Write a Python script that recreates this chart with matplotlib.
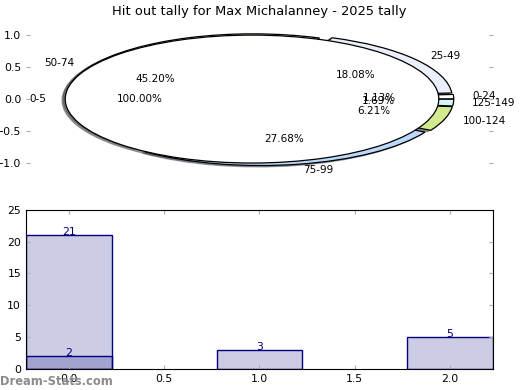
import numpy as np
import matplotlib
matplotlib.use('Agg')
import matplotlib.pyplot as plt

# данные
ranges = ['0-24', '25-49', '50-74', '75-99', '100-124', '125-149']
counts = [2, 32, 80, 49, 11, 3]
range_colors = ['#ffffff', '#eaeffb', '#f4e7c8', '#bcd8fc', '#d4ea8e', '#d6f6f6']
all_label = ['0-5']
all_count = [1]

bar_x = [0, 1, 2]
bar_vals = [21, 3, 5]
bar2_x = [0]
bar2_vals = [2]

title = 'Hit out tally for Max Michalanney - 2025 tally'
tick_grey = '#aaaaaa'

fig = plt.figure(figsize=(5.2, 3.9), dpi=100)

# пирог
ax1 = fig.add_axes([0.05, 0.541, 0.898, 0.41])
wp = {'edgecolor': 'black', 'linewidth': 0.9}
sh = {'ox': -0.012, 'oy': -0.015}
ax1.pie(counts, labels=ranges, colors=range_colors, autopct='%.2f%%',
        explode=[0.04] * len(counts), shadow=sh, wedgeprops=wp,
        textprops={'fontsize': 7.5})
ax1.pie(all_count, labels=all_label, colors=['white'], autopct='%.2f%%',
        explode=[0.04], shadow=sh, wedgeprops=wp,
        textprops={'fontsize': 7.5})
ax1.set_aspect('auto')
ax1.set_xlim(-1.25, 1.25)
ax1.set_ylim(-1.25, 1.25)
ax1.set_frame_on(False)
ax1.set_xticks([])
ax1.set_yticks([-1.0, -0.5, 0.0, 0.5, 1.0])
ax1.tick_params(axis='y', direction='in', length=3, color=tick_grey,
                labelsize=7.8, left=True, right=True)
ax1.set_title(title, fontsize=9.4, pad=3)

# столбцы
ax2 = fig.add_axes([0.05, 0.054, 0.898, 0.408])
ax2.bar(bar_x, bar_vals, width=0.45, color='navy', alpha=0.2)
ax2.bar(bar_x, bar_vals, width=0.45, facecolor='none', edgecolor='navy', linewidth=1)
ax2.bar(bar2_x, bar2_vals, width=0.45, color='navy', alpha=0.2)
ax2.bar(bar2_x, bar2_vals, width=0.45, facecolor='none', edgecolor='navy', linewidth=1)
for x, v in zip(bar_x, bar_vals):
    ax2.text(x, v, str(v), ha='center', va='baseline', color='navy', fontsize=7.8)
for x, v in zip(bar2_x, bar2_vals):
    ax2.text(x, v, str(v), ha='center', va='baseline', color='navy', fontsize=7.8)
ax2.set_xlim(-0.225, 2.225)
ax2.set_ylim(0, 25)
ax2.set_xticks([0.0, 0.5, 1.0, 1.5, 2.0])
ax2.set_yticks([0, 5, 10, 15, 20, 25])
ax2.tick_params(direction='in', length=3, color=tick_grey, labelsize=7.8,
                top=True, right=True)

fig.text(0.0, 0.012, 'Dream-Stats.com', color='#8c8c8c', fontsize=8.3,
         weight='semibold')

fig.savefig('out.png', dpi=100)
